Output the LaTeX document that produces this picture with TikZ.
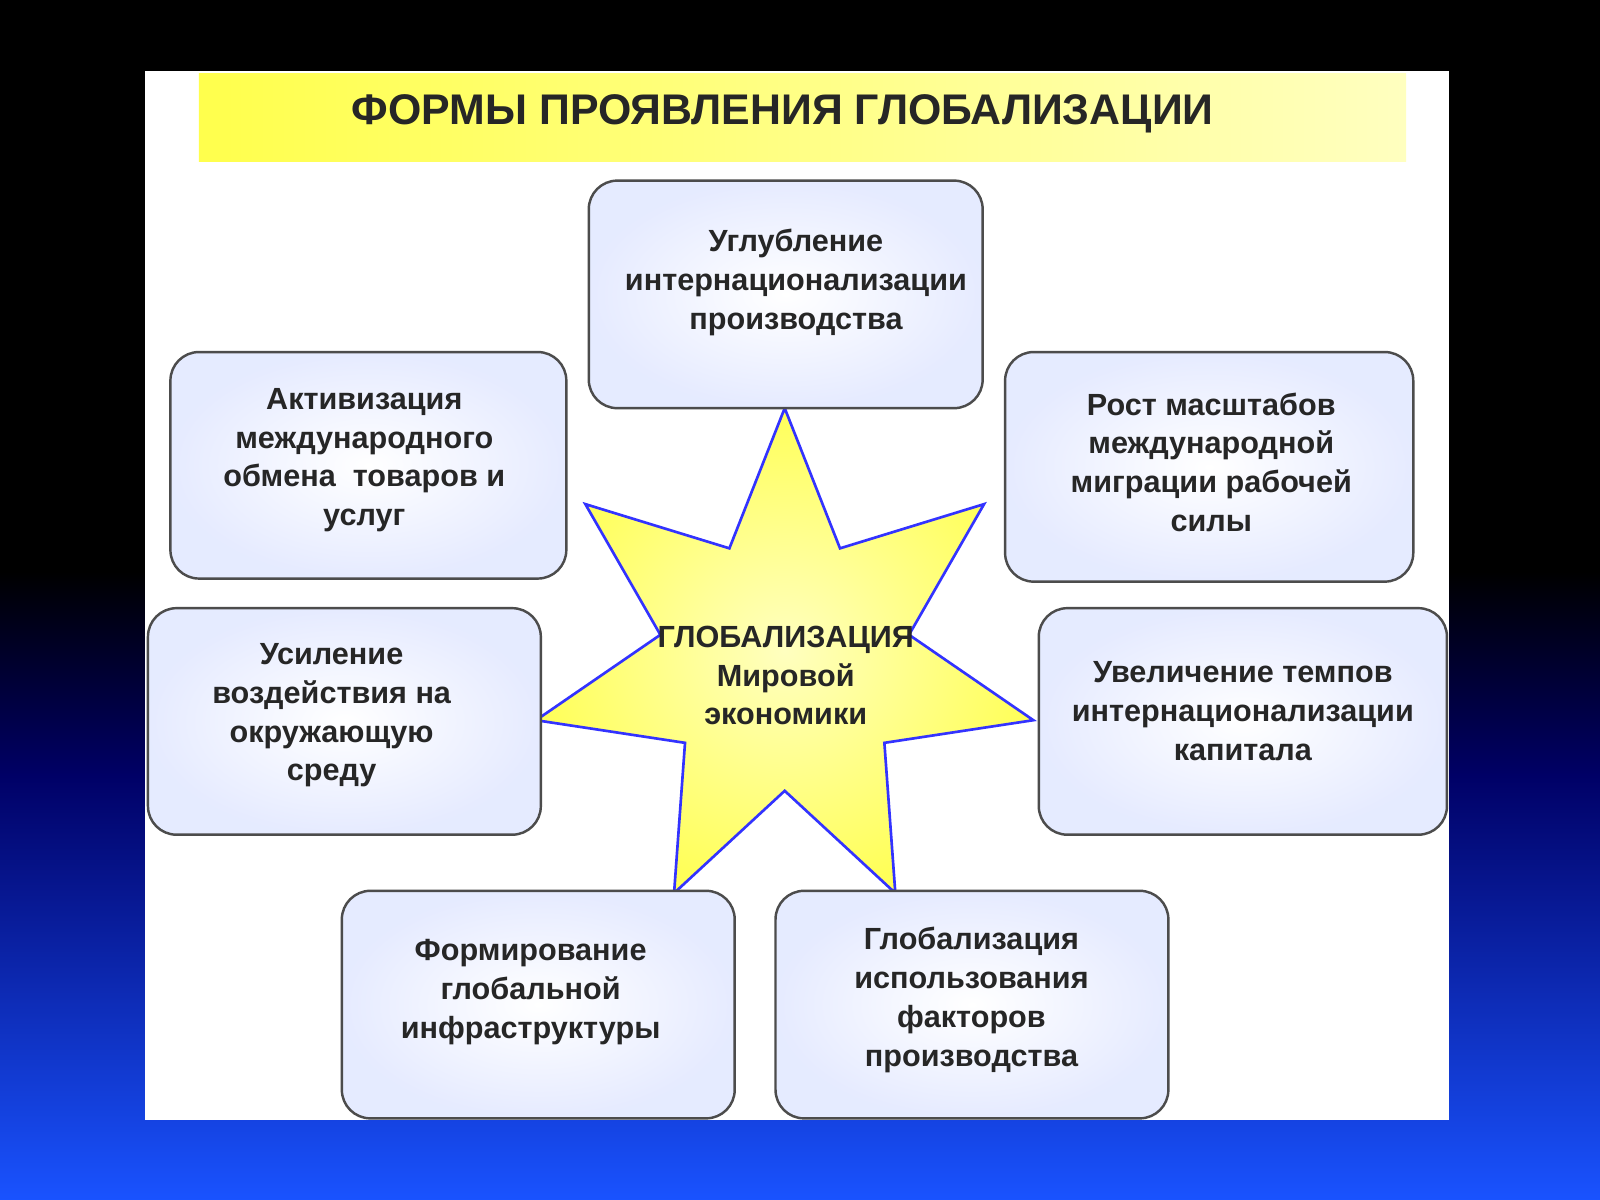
\documentclass[tikz,border=0pt]{standalone}
\usepackage{fontspec}
\setmainfont{Liberation Sans}
\begin{document}
\begin{tikzpicture}[x=0.5pt,y=-0.5pt,
  bx/.style={draw=black!70,line width=1.2pt,rounded corners=14pt,inner color=white,outer color=cyan!20!blue!10!white},
  tx/.style={font=\bfseries\fontsize{15}{19}\selectfont,align=center,text=black!85}]
\useasboundingbox (0,0) rectangle (1568,1176);
\fill[black] (0,0) rectangle (1568,560);
\shade[top color=black,bottom color=blue!40!black] (0,560) rectangle (1568,760);
\shade[top color=blue!40!black,bottom color=blue!75!cyan!90] (0,759) rectangle (1568,1176);
\fill[white] (142,70) rectangle (1420,1098);
\shade[left color=yellow!70,right color=yellow!25] (195,72) rectangle (1378,158);
\node[font=\bfseries\fontsize{21}{24}\selectfont,text=black!85] (title) at (767,112) {ФОРМЫ ПРОЯВЛЕНИЯ ГЛОБАЛИЗАЦИИ};
\shade[draw=blue!80,line width=1.3pt,inner color=yellow!25,outer color=yellow!65,shift={(769,650)},yscale=-1]
  (90:250) -- (64.3:125) -- (38.6:250) -- (12.9:125) -- (-12.9:250) -- (-38.6:125) -- (-64.3:250)
  -- (-90:125) -- (-115.7:250) -- (-141.4:125) -- (-167.1:250) -- (167.1:125) -- (141.4:250) -- (115.7:125) -- cycle;
\node[tx] (star) at (770,662) {ГЛОБАЛИЗАЦИЯ\\Мировой\\экономики};
\shade[bx] (577,177) rectangle (963,400);
\node[tx] (b1) at (780,277) {Углубление\\интернационализации\\производства};
\shade[bx] (167,345) rectangle (555,567);
\node[tx] (b2) at (357,451) {Активизация\\международного\\обмена~~товаров и\\услуг};
\shade[bx] (985,345) rectangle (1385,570);
\node[tx] (b3) at (1187,453) {Рост масштабов\\международной\\миграции рабочей\\силы};
\shade[bx] (145,596) rectangle (530,818);
\node[tx] (b4) at (325,701) {Усиление\\воздействия на\\окружающую\\среду};
\shade[bx] (1018,596) rectangle (1418,818);
\node[tx] (b5) at (1218,697) {Увеличение темпов\\интернационализации\\капитала};
\shade[bx] (335,873) rectangle (720,1096);
\node[tx] (b6) at (520,972) {Формирование\\глобальной\\инфраструктуры};
\shade[bx] (760,873) rectangle (1145,1096);
\node[tx] (b7) at (952,980) {Глобализация\\использования\\факторов\\производства};
\end{tikzpicture}
\end{document}
